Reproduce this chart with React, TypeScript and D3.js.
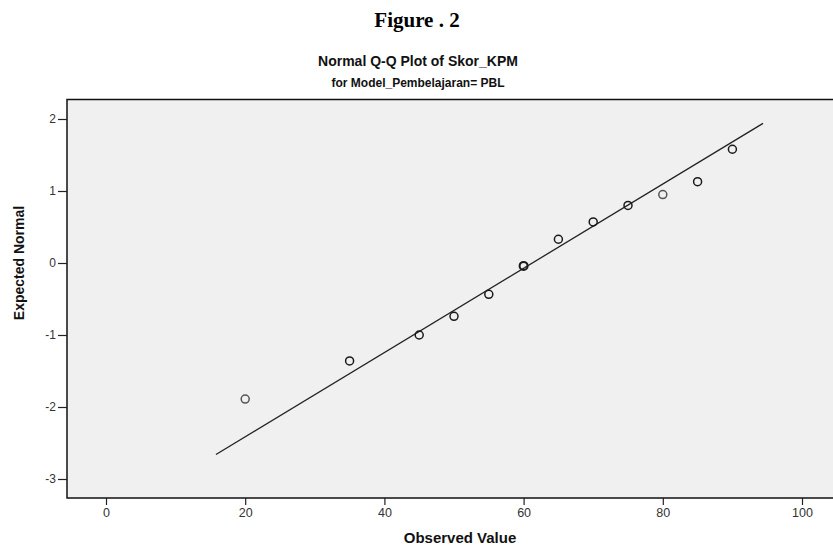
import React, { useRef, useEffect } from 'react';
import * as d3 from 'd3';

// observed scores and their expected normal values
const observed = [20, 35, 45, 50, 55, 60, 65, 70, 75, 80, 85, 90];
const expected = [-1.89, -1.36, -1.0, -0.74, -0.435, -0.04, 0.33, 0.57, 0.8, 0.95, 1.13, 1.58];
// how many cases share each point (darker ring when tied)
const counts = [1, 2, 2, 2, 2, 3, 2, 2, 2, 1, 2, 2];

// reference line end points
const lineX = [15.8, 94.4];
const lineY = [-2.66, 1.94];

const xTicks = [0, 20, 40, 60, 80, 100];
const yTicks = [-3, -2, -1, 0, 1, 2];

const App: React.FC = () => {
    const svgRef = useRef<SVGSVGElement>(null);

    useEffect(() => {
        if (!svgRef.current) return;

        const width = 833;
        const height = 548;
        const left = 67, right = 834, top = 99.5, bottom = 498;
        const sans = '"Liberation Sans", Arial, sans-serif';

        d3.select(svgRef.current).selectAll('*').remove();

        const svg = d3.select(svgRef.current)
            .attr('width', width)
            .attr('height', height);

        const x = d3.scaleLinear().domain([0, 100]).range([106, 802]);
        const y = d3.scaleLinear().domain([-3, 2]).range([479, 119]);

        // headings
        svg.append('text')
            .attr('x', 417).attr('y', 27)
            .attr('text-anchor', 'middle')
            .style('font-family', '"Liberation Serif", serif')
            .style('font-size', '21px')
            .style('font-weight', 'bold')
            .text('Figure . 2');

        svg.append('text')
            .attr('x', 418).attr('y', 66)
            .attr('text-anchor', 'middle')
            .style('font-family', sans)
            .style('font-size', '14px')
            .style('font-weight', 'bold')
            .attr('fill', '#111')
            .text('Normal Q-Q Plot of Skor_KPM');

        svg.append('text')
            .attr('x', 418).attr('y', 87)
            .attr('text-anchor', 'middle')
            .style('font-family', sans)
            .style('font-size', '12px')
            .style('font-weight', 'bold')
            .attr('fill', '#111')
            .text('for Model_Pembelajaran= PBL');

        // plot area
        svg.append('rect')
            .attr('x', left).attr('y', top)
            .attr('width', right - left).attr('height', bottom - top)
            .attr('fill', '#f0f0f0')
            .attr('stroke', '#111')
            .attr('stroke-width', 1.5);

        // y axis
        const yAxis = svg.append('g')
            .attr('transform', `translate(${left},0)`)
            .call(d3.axisLeft(y).tickValues(yTicks).tickSize(9).tickFormat(d => String(d)));
        yAxis.select('.domain').remove();
        yAxis.selectAll('line').attr('stroke', '#222').attr('stroke-width', 1.2);
        yAxis.selectAll('text')
            .attr('fill', '#333')
            .attr('x', -11)
            .style('font-family', sans)
            .style('font-size', '12px');

        // x axis
        const xAxis = svg.append('g')
            .attr('transform', `translate(0,${bottom})`)
            .call(d3.axisBottom(x).tickValues(xTicks).tickSize(7).tickFormat(d => String(d)));
        xAxis.select('.domain').remove();
        xAxis.selectAll('line').attr('stroke', '#222').attr('stroke-width', 1.2);
        xAxis.selectAll('text')
            .attr('fill', '#333')
            .attr('y', 10)
            .style('font-family', sans)
            .style('font-size', '12.5px');

        // axis titles
        svg.append('text')
            .attr('transform', `translate(24,263) rotate(-90)`)
            .attr('text-anchor', 'middle')
            .style('font-family', sans)
            .style('font-size', '14px')
            .style('font-weight', 'bold')
            .attr('fill', '#111')
            .text('Expected Normal');

        svg.append('text')
            .attr('x', 460).attr('y', 543)
            .attr('text-anchor', 'middle')
            .style('font-family', sans)
            .style('font-size', '15px')
            .style('font-weight', 'bold')
            .attr('fill', '#111')
            .text('Observed Value');

        // reference line
        const line = d3.line<number>()
            .x((d, i) => x(lineX[i]))
            .y(d => y(d));
        svg.append('path')
            .attr('d', line(lineY))
            .attr('fill', 'none')
            .attr('stroke', '#222')
            .attr('stroke-width', 1.3);

        // points
        svg.append('g')
            .selectAll('circle')
            .data(observed)
            .enter()
            .append('circle')
            .attr('cx', d => x(d))
            .attr('cy', (d, i) => y(expected[i]))
            .attr('r', 4)
            .attr('fill', 'none')
            .attr('stroke', (d, i) => counts[i] > 1 ? '#1a1a1a' : '#555')
            .attr('stroke-width', (d, i) => counts[i] > 2 ? 2 : 1.5);
    }, []);

    return <svg ref={svgRef} style={{ position: 'absolute', left: 0, top: 0 }}></svg>;
};

export default App;
